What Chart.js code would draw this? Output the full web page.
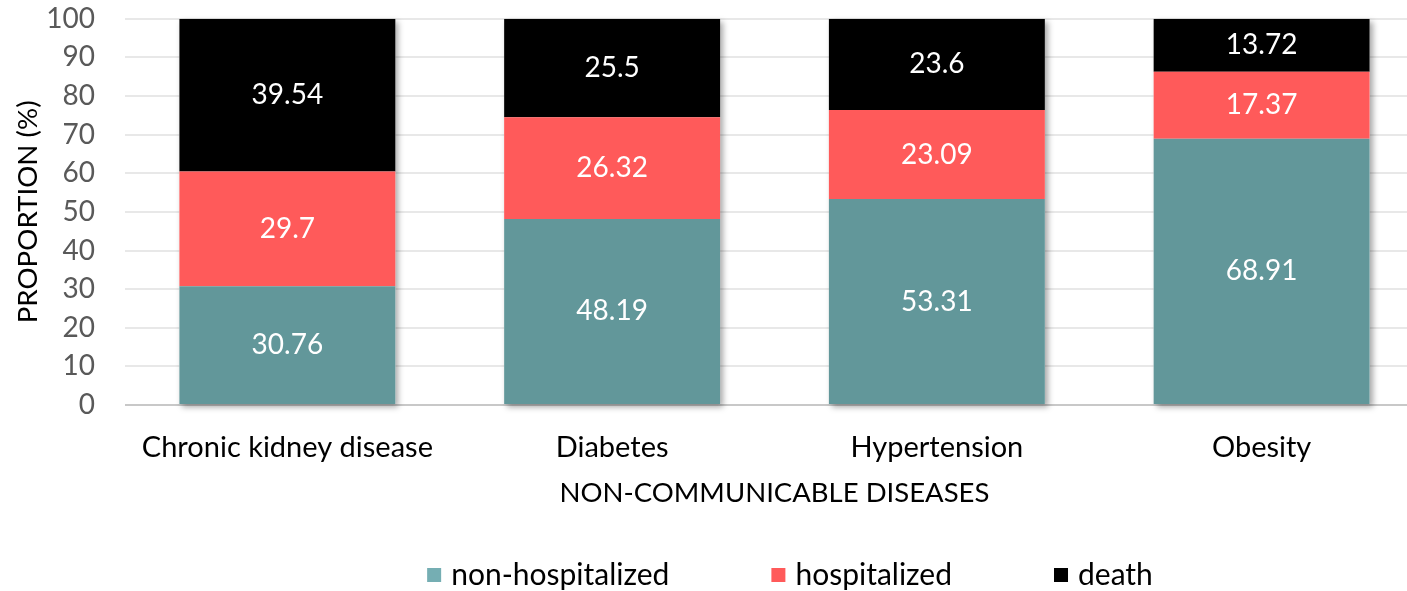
<!DOCTYPE html>
<html>
<head>
<meta charset="utf-8">
<script src="https://cdn.jsdelivr.net/npm/chart.js@4/dist/chart.umd.min.js"></script>
<style>
  html, body { margin: 0; padding: 0; background: #fff; overflow: hidden; }
  #wrap { width: 1430px; height: 591px; }
</style>
</head>
<body>
<div id="wrap"><canvas id="chart"></canvas></div>
<script>
const categories = ['Chronic kidney disease', 'Diabetes', 'Hypertension', 'Obesity'];
const seriesNames = ['non-hospitalized', 'hospitalized', 'death'];
const nonHospitalized = [30.76, 48.19, 53.31, 68.91];
const hospitalized = [29.7, 26.32, 23.09, 17.37];
const death = [39.54, 25.5, 23.6, 13.72];
const yTicks = [0, 10, 20, 30, 40, 50, 60, 70, 80, 90, 100];

const barColors = ['#62979a', '#ff5a5a', '#000000'];
const legendColors = ['#75aeb3', '#ff5a5a', '#000000'];
const FONT = 'Lato, "Open Sans", sans-serif';

// soft shadow behind each full stack
const stackShadow = {
  id: 'stackShadow',
  beforeDatasetsDraw(chart) {
    const ctx = chart.ctx;
    const first = chart.getDatasetMeta(0).data;
    const last = chart.getDatasetMeta(chart.data.datasets.length - 1).data;
    ctx.save();
    ctx.shadowColor = 'rgba(0,0,0,0.35)';
    ctx.shadowBlur = 6;
    ctx.shadowOffsetX = 3;
    ctx.shadowOffsetY = 3;
    ctx.fillStyle = '#ffffff';
    first.forEach((bar, i) => {
      const top = last[i].y;
      const w = bar.width;
      ctx.fillRect(bar.x - w / 2, top, w, bar.base - top);
    });
    ctx.restore();
  },
};

// value labels in the middle of each segment
const valueLabels = {
  id: 'valueLabels',
  afterDatasetsDraw(chart) {
    const ctx = chart.ctx;
    ctx.save();
    ctx.font = '28px ' + FONT;
    ctx.fillStyle = '#ffffff';
    ctx.textAlign = 'center';
    ctx.textBaseline = 'middle';
    chart.data.datasets.forEach((ds, d) => {
      chart.getDatasetMeta(d).data.forEach((bar, i) => {
        ctx.fillText(String(ds.data[i]), bar.x, (bar.y + bar.base) / 2);
      });
    });
    ctx.restore();
  },
};

// legend row at the bottom
const bottomLegend = {
  id: 'bottomLegend',
  afterDraw(chart) {
    const ctx = chart.ctx;
    const box = 14;
    const gap = 10;
    const itemGap = 102;
    ctx.save();
    ctx.font = '30px ' + FONT;
    ctx.textBaseline = 'middle';
    ctx.textAlign = 'left';
    const widths = seriesNames.map((n) => box + gap + ctx.measureText(n).width);
    const total = widths.reduce((a, b) => a + b, 0) + itemGap * (widths.length - 1);
    let x = 790 - total / 2;
    const y = chart.height - 16;
    seriesNames.forEach((n, i) => {
      ctx.fillStyle = legendColors[i];
      ctx.fillRect(x, y - box / 2, box, box);
      ctx.fillStyle = '#000000';
      ctx.fillText(n, x + box + gap, y);
      x += widths[i] + itemGap;
    });
    ctx.restore();
  },
};

const data = {
  labels: categories,
  datasets: [
    { label: seriesNames[0], data: nonHospitalized, backgroundColor: barColors[0] },
    { label: seriesNames[1], data: hospitalized, backgroundColor: barColors[1] },
    { label: seriesNames[2], data: death, backgroundColor: barColors[2] },
  ],
};

const config = {
  type: 'bar',
  data: data,
  plugins: [stackShadow, valueLabels, bottomLegend],
  options: {
    responsive: true,
    maintainAspectRatio: false,
    animation: false,
    barPercentage: 0.665,
    categoryPercentage: 1,
    layout: {
      padding: { top: 18, right: 6, left: 0, bottom: 81 },
    },
    plugins: {
      legend: { display: false },
      tooltip: { enabled: false },
    },
    scales: {
      x: {
        stacked: true,
        afterFit: (scale) => {
          scale.height = 105;
        },
        grid: { display: false, drawTicks: false },
        border: { display: false },
        ticks: {
          color: '#000000',
          padding: 25,
          maxRotation: 0,
          minRotation: 0,
          font: { family: FONT, size: 29 },
        },
        title: {
          display: true,
          text: 'NON-COMMUNICABLE DISEASES',
          color: '#000000',
          padding: { top: 0, bottom: 0 },
          font: { family: FONT, size: 27.5 },
        },
      },
      y: {
        stacked: true,
        min: 0,
        max: 100,
        afterBuildTicks: (scale) => {
          scale.ticks = yTicks.map((v) => ({ value: v }));
        },
        afterFit: (scale) => {
          scale.width = 125;
        },
        grid: {
          drawTicks: true,
          tickLength: 28,
          tickColor: 'rgba(0,0,0,0)',
          lineWidth: 2,
          color: (c) => (c.tick && c.tick.value === 0 ? '#c8c8c8' : '#e8e8e8'),
        },
        border: { display: false },
        ticks: {
          color: '#595959',
          padding: 2,
          autoSkip: false,
          font: { family: FONT, size: 28 },
        },
        title: {
          display: true,
          text: 'PROPORTION (%)',
          color: '#000000',
          padding: { top: 11, bottom: 0 },
          font: { family: FONT, size: 27.7 },
        },
      },
    },
  },
};

new Chart(document.getElementById('chart'), config);
</script>
</body>
</html>
